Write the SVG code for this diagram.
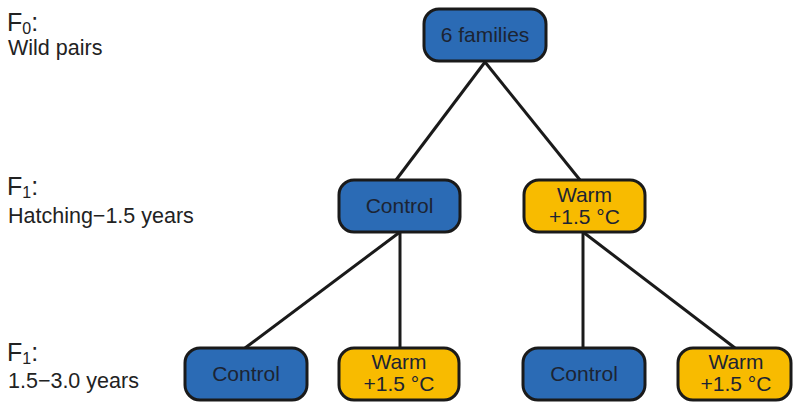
<svg xmlns="http://www.w3.org/2000/svg" width="793" height="403" viewBox="0 0 793 403">
<style>
.lbl{font-family:"Liberation Sans",Arial,sans-serif;fill:#222;}
.big{font-size:25px;}
.sm{font-size:21.5px;}
.blue{fill:#2b6bb5;stroke:#1a1a1a;stroke-width:3;}
.yel{fill:#f8bb00;stroke:#1a1a1a;stroke-width:3;}
.t{font-family:"Liberation Sans",Arial,sans-serif;font-size:21px;fill:#1c2433;text-anchor:middle;}
.c{stroke:#1a1a1a;stroke-width:3;fill:none;}
</style>
<g id="labels">
<text class="lbl big" x="7" y="31">F<tspan font-size="16" dy="3">0</tspan><tspan dy="-3">:</tspan></text>
<text class="lbl sm" x="8" y="55">Wild pairs</text>
<text class="lbl big" x="7" y="195">F<tspan font-size="16" dy="3">1</tspan><tspan dy="-3">:</tspan></text>
<text class="lbl sm" x="8" y="223">Hatching−1.5 years</text>
<text class="lbl big" x="7" y="361">F<tspan font-size="16" dy="3">1</tspan><tspan dy="-3">:</tspan></text>
<text class="lbl sm" x="8" y="388">1.5−3.0 years</text>
</g>
<g id="connectors">
<line class="c" x1="485" y1="62" x2="396" y2="180"/>
<line class="c" x1="485" y1="62" x2="580" y2="180"/>
<line class="c" x1="400" y1="232" x2="245" y2="348"/>
<line class="c" x1="400" y1="232" x2="400" y2="348"/>
<line class="c" x1="583" y1="232" x2="583" y2="348"/>
<line class="c" x1="583" y1="232" x2="735" y2="348"/>
</g>
<g id="n-root">
<rect class="blue" x="424" y="9" width="122" height="52" rx="15"/>
<text class="t" x="485" y="42">6 families</text>
</g>
<g id="n-control1">
<rect class="blue" x="339" y="180" width="121" height="52" rx="15"/>
<text class="t" x="399.5" y="213">Control</text>
</g>
<g id="n-warm1">
<rect class="yel" x="524" y="180" width="121" height="52" rx="15"/>
<text class="t" x="584.5" y="202">Warm</text>
<text class="t" x="584.5" y="224">+1.5 °C</text>
</g>
<g id="n-control2">
<rect class="blue" x="185" y="348" width="122" height="52" rx="15"/>
<text class="t" x="246" y="381">Control</text>
</g>
<g id="n-warm2">
<rect class="yel" x="339" y="348" width="120" height="52" rx="15"/>
<text class="t" x="399" y="369">Warm</text>
<text class="t" x="399" y="391">+1.5 °C</text>
</g>
<g id="n-control3">
<rect class="blue" x="523" y="348" width="122" height="52" rx="15"/>
<text class="t" x="584" y="381">Control</text>
</g>
<g id="n-warm3">
<rect class="yel" x="678" y="348" width="113" height="52" rx="15"/>
<text class="t" x="736" y="369">Warm</text>
<text class="t" x="736" y="391">+1.5 °C</text>
</g>
</svg>
